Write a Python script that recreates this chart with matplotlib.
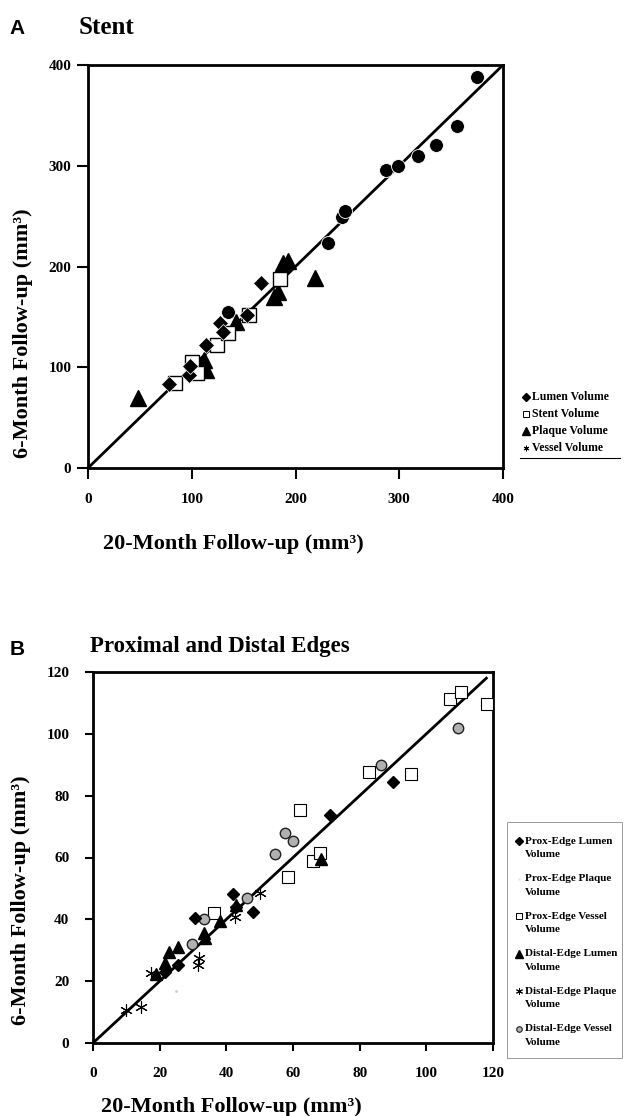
import matplotlib.pyplot as plt
from matplotlib.lines import Line2D
from matplotlib.patches import Rectangle

plt.rcParams['font.family'] = 'Liberation Serif'
plt.rcParams['font.weight'] = 'bold'

# Panel A (Stent): 20-month (x) vs 6-month (y) volumes, mm3
lumen_a_x = [78, 97, 98, 114, 127, 130, 153, 167]
lumen_a_y = [83, 92, 101, 122, 144, 135, 152, 184]
stent_a_x = [84, 100, 105, 124, 135, 155, 185]
stent_a_y = [84, 105, 94, 122, 134, 152, 188]
plaque_a_x = [48, 112, 114, 143, 179, 183, 188, 193, 219]
plaque_a_y = [69, 107, 97, 145, 170, 175, 203, 205, 189]
vessel_a_x = [135, 153, 231, 245, 248, 287, 299, 318, 335, 356, 375]
vessel_a_y = [155, 152, 223, 249, 255, 296, 300, 310, 321, 339, 388]

# Panel B (Proximal and Distal Edges)
prox_lumen_x = [21.5, 25.5, 30.5, 42, 43, 48, 71, 90]
prox_lumen_y = [23.1, 25.3, 40.4, 48.1, 44.1, 42.3, 73.7, 84.3]
prox_plaque_x = [25]
prox_plaque_y = [16.7]
prox_vessel_x = [36.3, 58.5, 62, 66, 68, 82.7, 95.3, 107.2, 110.5, 118.2]
prox_vessel_y = [42.2, 53.6, 75.3, 58.9, 61.4, 87.7, 87.0, 111.4, 113.6, 109.8]
dist_lumen_x = [19, 21.5, 22.8, 25.5, 33.3, 33.5, 38, 43, 68.3]
dist_lumen_y = [22.4, 25.8, 29.3, 31.0, 35.7, 33.9, 39.3, 44.7, 59.4]
dist_plaque_x = [10, 14.3, 17.5, 31.5, 31.7, 42.5, 50]
dist_plaque_y = [10.8, 11.8, 22.8, 25.3, 27.4, 40.9, 48.4]
dist_vessel_x = [29.7, 33.3, 46.3, 54.5, 57.5, 60, 86.3, 109.5]
dist_vessel_y = [32.0, 40.0, 46.8, 61.0, 67.8, 65.4, 89.9, 102.0]

legend_a = ['Lumen Volume', 'Stent Volume', 'Plaque Volume', 'Vessel Volume']
legend_b = ['Prox-Edge Lumen\nVolume', 'Prox-Edge Plaque\nVolume', 'Prox-Edge Vessel\nVolume',
            'Distal-Edge Lumen\nVolume', 'Distal-Edge Plaque\nVolume', 'Distal-Edge Vessel\nVolume']

W, H = 629, 1116
fig = plt.figure(figsize=(W / 100, H / 100), dpi=100)


def fx(px):
    return px / W


def fy(py):
    return 1 - py / H


def style_axes(ax, xpad, ypad, ticklen):
    for s in ax.spines.values():
        s.set_linewidth(2)
    ax.tick_params(axis='x', direction='out', length=ticklen, width=1.5, labelsize=11, pad=xpad)
    ax.tick_params(axis='y', direction='out', length=ticklen, width=1.5, labelsize=11, pad=ypad)
    for lab in ax.get_xticklabels() + ax.get_yticklabels():
        lab.set_fontweight('bold')


def legend_entry(px, py, text, size=8.5, spacing=1.25, **mk):
    fig.add_artist(Line2D([fx(px)], [fy(py)], transform=fig.transFigure, ls='none', **mk))
    fig.text(fx(px + 6), fy(py), text, fontsize=size, weight='bold', va='center', ha='left',
             linespacing=spacing)


# ---- Panel A ----
ax1 = fig.add_axes([fx(88), fy(468), 415 / W, 403 / H])
ax1.plot([0, 400], [0, 400], color='black', lw=2, zorder=1)
ax1.plot(vessel_a_x, vessel_a_y, 'o', color='black', ms=10, mec='white', mew=0.6, zorder=2)
ax1.plot(plaque_a_x, plaque_a_y, '^', color='black', ms=11, zorder=3)
ax1.plot(stent_a_x, stent_a_y, 's', mfc='white', mec='black', ms=10, mew=1, zorder=3)
ax1.plot(lumen_a_x, lumen_a_y, 'D', color='black', ms=8, mec='white', mew=0.5, zorder=4)
ax1.set_xlim(0, 400)
ax1.set_ylim(0, 400)
ax1.set_xticks([0, 100, 200, 300, 400])
ax1.set_yticks([0, 100, 200, 300, 400])
style_axes(ax1, xpad=10, ypad=4, ticklen=8)

marks_a = [dict(marker='D', color='black', ms=4),
           dict(marker='s', mfc='white', mec='black', ms=4.5, mew=0.7),
           dict(marker='^', color='black', ms=5.5),
           dict(marker=(6, 2, 0), color='black', ms=4, mew=0.7)]
for i, (lab, mk) in enumerate(zip(legend_a, marks_a)):
    legend_entry(526, 397 + i * 17, lab, **mk)
fig.add_artist(Line2D([fx(520), fx(620)], [fy(458), fy(458)], transform=fig.transFigure,
                      color='black', lw=0.8))

fig.text(fx(9), fy(34), 'A', family='Liberation Sans', weight='bold', fontsize=15, va='baseline')
fig.text(fx(79), fy(34), 'Stent', weight='bold', fontsize=18, va='baseline')
fig.text(fx(233), fy(549), '20-Month Follow-up (mm³)', weight='bold', fontsize=16,
         ha='center', va='baseline')
fig.text(fx(23), fy(333), '6-Month Follow-up (mm³)', weight='bold', fontsize=16,
         ha='center', va='center', rotation=90)

# ---- Panel B ----
ax2 = fig.add_axes([fx(93), fy(1043), 400 / W, 371 / H])
ax2.plot([0, 118], [0, 118], color='black', lw=2, zorder=1)
ax2.plot(prox_lumen_x, prox_lumen_y, 'D', color='black', ms=6.5, zorder=4)
ax2.plot(prox_plaque_x, prox_plaque_y, '.', color='#cccccc', ms=2, zorder=2)
ax2.plot(prox_vessel_x, prox_vessel_y, 's', mfc='white', mec='black', ms=8, mew=0.8, zorder=3)
ax2.plot(dist_lumen_x, dist_lumen_y, '^', color='black', ms=8.5, zorder=4)
ax2.plot(dist_plaque_x, dist_plaque_y, marker=(6, 2, 0), ls='none', color='black', ms=9, mew=0.8,
         zorder=3)
ax2.plot(dist_vessel_x, dist_vessel_y, 'o', mfc='#b0b0b0', mec='#222222', ms=7.5, mew=1, zorder=3)
ax2.set_xlim(0, 120)
ax2.set_ylim(0, 120)
ax2.set_xticks(range(0, 121, 20))
ax2.set_yticks(range(0, 121, 20))
style_axes(ax2, xpad=11, ypad=11, ticklen=6)

marks_b = [dict(marker='D', color='black', ms=4),
           dict(marker='.', color='#dddddd', ms=1),
           dict(marker='s', mfc='white', mec='black', ms=4.5, mew=0.7),
           dict(marker='^', color='black', ms=5.5),
           dict(marker=(6, 2, 0), color='black', ms=5, mew=0.7),
           dict(marker='o', mfc='#b0b0b0', mec='#222222', ms=4, mew=0.8)]
for i, (lab, mk) in enumerate(zip(legend_b, marks_b)):
    fig.add_artist(Line2D([fx(519)], [fy(841 + i * 37.5)], transform=fig.transFigure, ls='none', **mk))
    fig.text(fx(525), fy(848 + i * 37.5), lab, fontsize=8, weight='bold', va='center', ha='left',
             linespacing=1.6)
fig.add_artist(Rectangle((fx(507), fy(1058)), 115 / W, 236 / H, transform=fig.transFigure,
                         fill=False, edgecolor='#9a9a9a', lw=0.7))

fig.text(fx(10), fy(655), 'B', family='Liberation Sans', weight='bold', fontsize=15, va='baseline')
fig.text(fx(90), fy(652), 'Proximal and Distal Edges', weight='bold', fontsize=16.5, va='baseline')
fig.text(fx(231), fy(1112), '20-Month Follow-up (mm³)', weight='bold', fontsize=16,
         ha='center', va='baseline')
fig.text(fx(21), fy(900), '6-Month Follow-up (mm³)', weight='bold', fontsize=16,
         ha='center', va='center', rotation=90)

fig.savefig('out.png', dpi=100)
